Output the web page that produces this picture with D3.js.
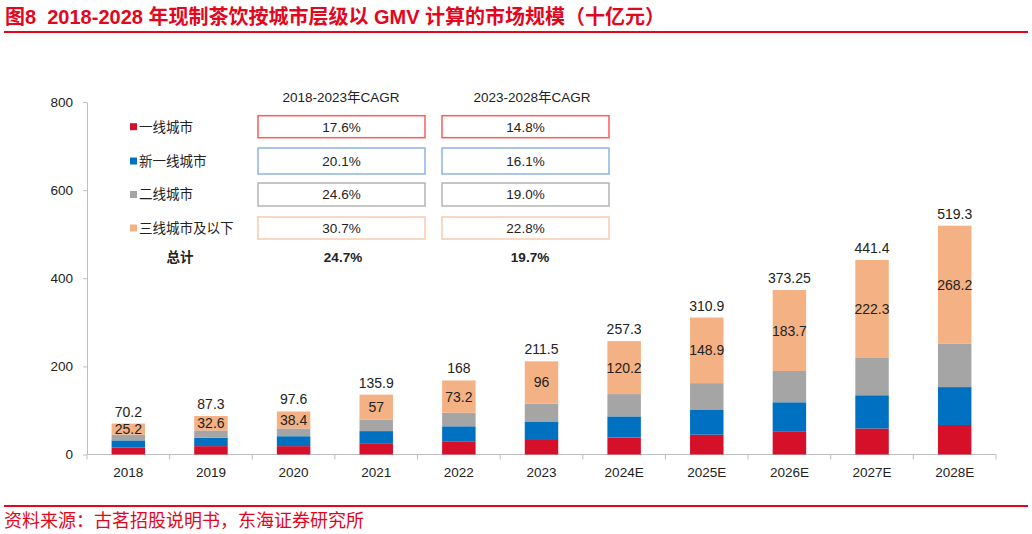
<!DOCTYPE html>
<html><head><meta charset="utf-8">
<script src="https://cdn.jsdelivr.net/npm/d3@7/dist/d3.min.js"></script>
<style>
html,body{margin:0;padding:0;background:#fff;}
svg{display:block;font-family:"Liberation Sans","Noto Sans CJK SC",sans-serif;}
</style></head>
<body><svg id="c" width="1032" height="534"></svg>
<script>
const categories = ['2018','2019','2020','2021','2022','2023','2024E','2025E','2026E','2027E','2028E'];
const tier1    = [16, 19, 19, 25.6, 30, 35, 38.5, 45, 51.5, 59, 67];
const newTier1 = [16, 19, 22.5, 27.5, 34, 40, 48, 56, 67, 75.5, 86];
const tier2    = [13, 16.7, 17.7, 25.8, 30.8, 40.5, 50.6, 61, 71.05, 84.6, 98.1];
const tier3    = [25.2, 32.6, 38.4, 57, 73.2, 96, 120.2, 148.9, 183.7, 222.3, 268.2];
const totals   = [70.2, 87.3, 97.6, 135.9, 168, 211.5, 257.3, 310.9, 373.25, 441.4, 519.3];
const seriesNames = ['一线城市','新一线城市','二线城市','三线城市及以下'];
const cagrHeaders = ['2018-2023年CAGR','2023-2028年CAGR'];
const cagr1823 = ['17.6%','20.1%','24.6%','30.7%'];
const cagr2328 = ['14.8%','16.1%','19.0%','22.8%'];
const cagrTotalLabel = '总计';
const cagrTotals = ['24.7%','19.7%'];
const yTicks = [0,200,400,600,800];

const colors = ['#d7102a','#0070c0','#a5a5a5','#f4b183'];
const boxColors = ['#ff5a5a','#8db4e2','#b4b4b4','#f8cbad'];
const red = '#e3061c';

const svg = d3.select('#c');
const cjk = '"Noto Sans CJK SC","Liberation Sans",sans-serif';
const latin = '"Liberation Sans","Noto Sans CJK SC",sans-serif';

// title
svg.append('text').attr('x',5).attr('y',24).attr('fill',red).style('white-space','pre')
  .attr('font-weight','bold').attr('font-size',20).attr('font-family',latin)
  .text('图8  2018-2028 年现制茶饮按城市层级以 GMV 计算的市场规模（十亿元）');
svg.append('line').attr('x1',4).attr('x2',1028).attr('y1',32).attr('y2',32).attr('stroke',red).attr('stroke-width',2);
svg.append('line').attr('x1',4).attr('x2',1028).attr('y1',506).attr('y2',506).attr('stroke',red).attr('stroke-width',2);
svg.append('text').attr('x',4).attr('y',527).attr('fill',red).attr('font-size',18).attr('font-family',cjk)
  .text('资料来源：古茗招股说明书，东海证券研究所');

const x = d3.scaleBand().domain(categories).range([87,996]).paddingInner(0.595).paddingOuter(0.2975);
const y = d3.scaleLinear().domain([0,800]).range([454.5,102]);

const rows = categories.map((c,i)=>({cat:c, s0:tier1[i], s1:newTier1[i], s2:tier2[i], s3:tier3[i]}));
const stacked = d3.stack().keys(['s0','s1','s2','s3'])(rows);

// axes
const yAxis = svg.append('g').attr('transform','translate(87,0)')
  .call(d3.axisLeft(y).tickValues(yTicks).tickSize(4).tickSizeOuter(0).tickPadding(10));
yAxis.select('.domain').attr('stroke','#bfbfbf');
yAxis.selectAll('line').attr('stroke','#bfbfbf');
yAxis.selectAll('text').attr('font-size',13.5).attr('fill','#222').attr('font-family',latin);

const bounds = categories.map(c=>x(c)-x.step()*x.paddingInner()/2).concat([996]);
const xAxis = svg.append('g').attr('transform','translate(0,454.5)');
xAxis.append('line').attr('x1',87).attr('x2',996).attr('stroke','#bfbfbf');
xAxis.selectAll('line.t').data(bounds).join('line').attr('class','t')
  .attr('x1',d=>d).attr('x2',d=>d).attr('y1',0).attr('y2',5).attr('stroke','#bfbfbf');
xAxis.selectAll('text').data(categories).join('text')
  .attr('x',d=>x(d)+x.bandwidth()/2).attr('y',22).attr('text-anchor','middle')
  .attr('font-size',13.5).attr('fill','#222').text(d=>d);

// bars
svg.append('g').selectAll('g').data(stacked).join('g').attr('fill',(d,i)=>colors[i])
  .selectAll('rect').data(d=>d).join('rect')
  .attr('x',d=>x(d.data.cat)).attr('width',x.bandwidth())
  .attr('y',d=>y(d[1])).attr('height',d=>y(d[0])-y(d[1]));

// inner labels (tier3)
const topLayer = stacked[3];
svg.append('g').selectAll('text').data(topLayer).join('text')
  .attr('x',d=>x(d.data.cat)+x.bandwidth()/2).attr('y',d=>(y(d[0])+y(d[1]))/2)
  .attr('dy','0.36em').attr('text-anchor','middle').attr('font-size',14).attr('fill','#222')
  .text((d,i)=>tier3[i]);
// totals
svg.append('g').selectAll('text').data(categories).join('text')
  .attr('x',d=>x(d)+x.bandwidth()/2).attr('y',(d,i)=>y(totals[i])-7)
  .attr('text-anchor','middle').attr('font-size',14).attr('fill','#222')
  .text((d,i)=>totals[i]);

// CAGR table
const rowY = [126.7,161,194.5,228];
const boxH = [22,26,23,22];
const colX = [[258,425],[442,609]];
const lg = svg.append('g');
cagrHeaders.forEach((h,j)=>{
  lg.append('text').attr('x',j===0?341:532).attr('y',97.5).attr('dy','0.36em').attr('text-anchor','middle')
    .attr('font-size',13.5).attr('font-family',latin).attr('fill','#222').text(h);
});
seriesNames.forEach((n,i)=>{
  lg.append('rect').attr('x',130).attr('y',rowY[i]-3.5).attr('width',7).attr('height',7).attr('fill',colors[i]);
  lg.append('text').attr('x',139).attr('y',rowY[i]).attr('dy','0.36em').attr('font-size',13.5)
    .attr('font-family',cjk).attr('fill','#222').text(n);
  [cagr1823,cagr2328].forEach((arr,j)=>{
    const [x0,x1]=colX[j];
    lg.append('rect').attr('x',x0).attr('y',rowY[i]-boxH[i]/2).attr('width',x1-x0).attr('height',boxH[i])
      .attr('fill','none').attr('stroke',boxColors[i]).attr('stroke-width',1.5);
    lg.append('text').attr('x',(x0+x1)/2).attr('y',rowY[i]).attr('dy','0.36em').attr('text-anchor','middle')
      .attr('font-size',13.5).attr('fill','#222').text(arr[i]);
  });
});
lg.append('text').attr('x',180).attr('y',257.5).attr('dy','0.36em').attr('text-anchor','middle')
  .attr('font-size',13.5).attr('font-weight','bold').attr('font-family',cjk).attr('fill','#222').text(cagrTotalLabel);
cagrTotals.forEach((t,j)=>{
  lg.append('text').attr('x',j===0?343:530).attr('y',257.5).attr('dy','0.36em').attr('text-anchor','middle')
    .attr('font-size',13.5).attr('font-weight','bold').attr('font-family',latin).attr('fill','#222').text(t);
});
</script></body></html>
